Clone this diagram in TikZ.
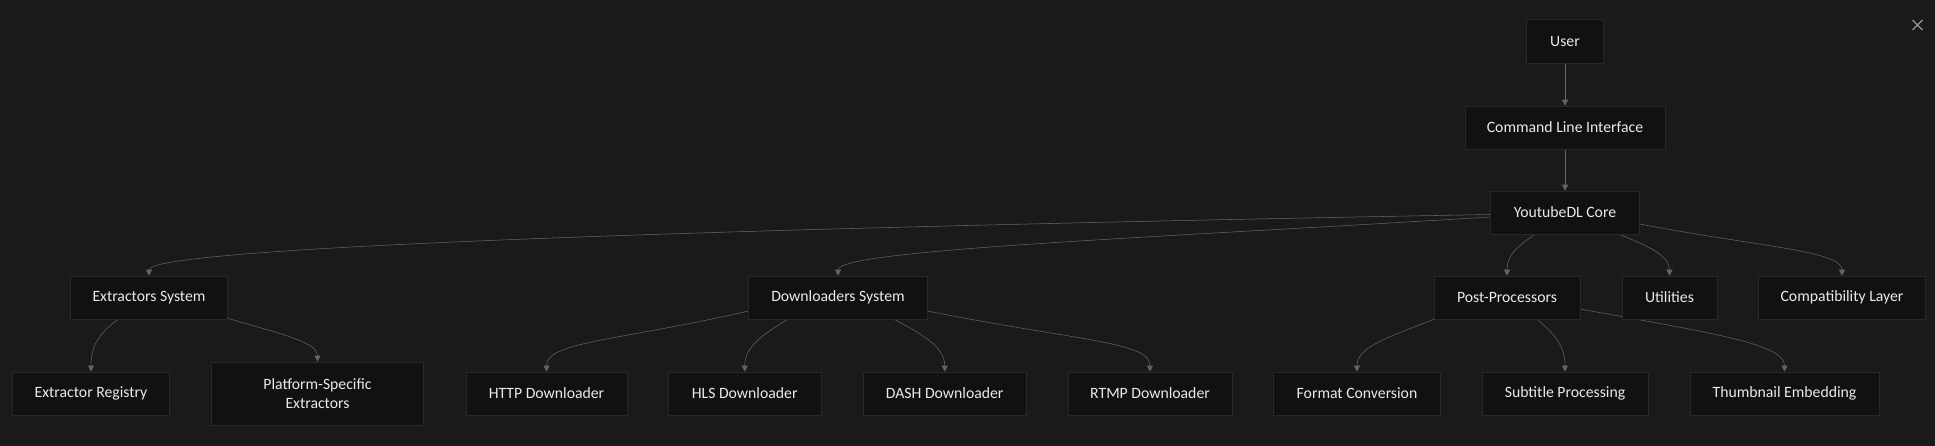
\documentclass[tikz,border=0pt]{standalone}
\usepackage{fontspec}
\setmainfont{Carlito}
\usetikzlibrary{arrows.meta,calc}

\definecolor{canvasbg}{RGB}{26,26,26}
\definecolor{boxfill}{RGB}{17,17,17}
\definecolor{boxline}{RGB}{40,40,40}
\definecolor{edgeline}{RGB}{100,100,100}
\definecolor{labeltext}{RGB}{234,234,234}
\definecolor{closemark}{RGB}{150,150,150}

\pgfdeclarelayer{bg}
\pgfdeclarelayer{edgelayer}
\pgfsetlayers{bg,edgelayer,main}

\tikzset{every picture/.style={line width=0.75pt}}
\tikzset{
  blockbox/.style={draw=boxline, fill=boxfill, text=labeltext, inner sep=0pt,
    minimum height=32.25pt, align=center, font=\fontsize{11.8}{14.25}\selectfont},
  flow/.style={draw=edgeline, -{Triangle[length=4.5pt,width=4.5pt]}},
}

\begin{document}
\begin{tikzpicture}[x=0.75pt,y=0.75pt,yscale=-1,xscale=1]
    \useasboundingbox (0,0) rectangle (1935,446);
    \begin{pgfonlayer}{bg}
    \fill[canvasbg] (0,0) rectangle (1935,446);
    \end{pgfonlayer}

    % Top chain
    \node (user) [blockbox, minimum width=57.75pt, minimum height=33pt] at (1565,41.3) {User};
    \node (cli) [blockbox, minimum width=150pt] at (1565,127.5) {Command Line Interface};
    \node (core) [blockbox, minimum width=111.75pt] at (1565,212.5) {YoutubeDL Core};

    % Subsystems
    \node (ext) [blockbox, minimum width=117.75pt] at (149,297.5) {Extractors System};
    \node (dl) [blockbox, minimum width=133.9pt] at (838,297.5) {Downloaders System};
    \node (pp) [blockbox, minimum width=109.5pt] at (1507,297.5) {Post-Processors};
    \node (util) [blockbox, minimum width=71.25pt] at (1669.5,297.5) {Utilities};
    \node (compat) [blockbox, minimum width=125.6pt] at (1842,297.5) {Compatibility Layer};

    % Components
    \node (reg) [blockbox, minimum width=117.5pt] at (91,393.3) {Extractor Registry};
    \node (plat) [blockbox, minimum width=159.2pt, minimum height=47.25pt] at (317.5,393.3) {Platform-Specific\\Extractors};
    \node (http) [blockbox, minimum width=120.75pt] at (546.5,393.3) {HTTP Downloader};
    \node (hls) [blockbox, minimum width=114.5pt] at (744.7,393.3) {HLS Downloader};
    \node (dash) [blockbox, minimum width=122.8pt] at (944.7,393.3) {DASH Downloader};
    \node (rtmp) [blockbox, minimum width=122.7pt] at (1150,393.3) {RTMP Downloader};
    \node (fmt) [blockbox, minimum width=124.9pt] at (1357,393.3) {Format Conversion};
    \node (sub) [blockbox, minimum width=124.5pt] at (1565,393.3) {Subtitle Processing};
    \node (thumb) [blockbox, minimum width=141.75pt] at (1784.5,393.3) {Thumbnail Embedding};

    %Straight Lines
    \begin{pgfonlayer}{edgelayer}
    \draw[flow] (user.south) -- (cli.north);
    \draw[flow] (cli.south) -- (core.north);

    %Curve Lines
    \draw[flow] ($(core.west)+(0,2)$) .. controls +(-890,16) and +(0,-26) .. (ext.north);
    \draw[flow] ($(core.west)+(0,4.5)$) .. controls +(-340,21) and +(0,-26) .. (dl.north);
    \draw[flow] ($(core.south)+(-30,0)$) .. controls +(-20,14) and +(0,-20) .. (pp.north);
    \draw[flow] ($(core.south)+(54,0)$) .. controls +(30,12) and +(0,-20) .. (util.north);
    \draw[flow] ($(core.east)+(0,11.5)$) .. controls +(120,23) and +(0,-25) .. (compat.north);

    \draw[flow] ($(ext.south)+(-31,0)$) .. controls +(-20,15) and +(0,-25) .. (reg.north);
    \draw[flow] ($(ext.south east)+(0,-1)$) .. controls +(50,15) and +(0,-20) .. (plat.north);

    \draw[flow] ($(dl.west)+(0,13.5)$) .. controls +(-130,30) and +(0,-30) .. (http.north);
    \draw[flow] ($(dl.south)+(-50,0)$) .. controls +(-25,15) and +(0,-25) .. (hls.north);
    \draw[flow] ($(dl.south)+(56,0)$) .. controls +(28,15) and +(0,-25) .. (dash.north);
    \draw[flow] ($(dl.east)+(0,13.5)$) .. controls +(150,30) and +(0,-30) .. (rtmp.north);

    \draw[flow] (pp.south west) .. controls +(-45,18) and +(0,-25) .. (fmt.north);
    \draw[flow] ($(pp.south)+(30,0)$) .. controls +(18,15) and +(0,-25) .. (sub.north);
    \draw[flow] ($(pp.east)+(0,11.5)$) .. controls +(130,24) and +(0,-28) .. (thumb.north);
    \end{pgfonlayer}

    % Close mark
    \draw[closemark, line width=0.9pt] (1912.5,20) -- (1922.5,30) (1922.5,20) -- (1912.5,30);

\end{tikzpicture}
\end{document}
